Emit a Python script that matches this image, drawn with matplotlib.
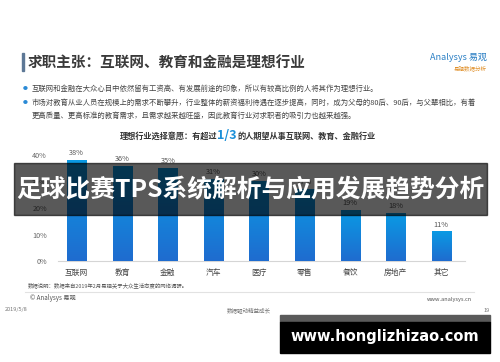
import matplotlib
matplotlib.use("Agg")
import matplotlib.pyplot as plt
from matplotlib.patches import Rectangle
from matplotlib.colors import LinearSegmentedColormap
from matplotlib.lines import Line2D
import numpy as np

plt.rcParams['font.family'] = ['Noto Sans CJK SC', 'DejaVu Sans']

categories = ["互联网", "教育", "金融", "汽车", "医疗", "零售", "餐饮", "房地产", "其它"]
shares = [38, 36, 35, 31, 30, 27, 19, 18, 11]
yticks = [0, 10, 20, 30, 40]
ytick_labels = ["0%", "10%", "20%", "30%", "40%"]

bullets = [
    ["互联网和金融在大众心目中依然留有工资高、有发展前途的印象，所以有较高比例的人将其作为理想行业。"],
    ["市场对教育从业人员在规模上的需求不断攀升，行业整体的薪资福利待遇在逐步提高，同时，成为父母的80后、90后，与父辈相比，有着",
     "更高质量、更高标准的教育需求，且需求越来越旺盛，因此教育行业对求职者的吸引力也越来越强。"],
]

W, H = 500, 362


def fx(x):
    return x / W


def fy(y):
    return 1 - y / H


fig = plt.figure(figsize=(5, 3.62), dpi=100)
fig.patch.set_facecolor("white")
renderer = fig.canvas.get_renderer()

# header
fig.patches.append(Rectangle((fx(22), fy(71)), 2.2 / W, 18 / H, transform=fig.transFigure,
                             color="#5d7896"))
fig.text(fx(28), fy(63), "求职主张：互联网、教育和金融是理想行业", fontsize=10.5,
         fontweight="bold", color="#3a3a3a", va="center")
fig.text(fx(487), fy(58), "Analysys 易观", fontsize=6.5, color="#2a7fc4", ha="right", va="center")
fig.text(fx(487), fy(68), "易观数据分析", fontsize=4, color="#e0902a", ha="right", va="center")

line_y = [89, 103, 116]
k = 0
for lines in bullets:
    fig.text(fx(25), fy(line_y[k]), "●", fontsize=3.5, color="#2a8ad6", ha="center", va="center")
    for t in lines:
        fig.text(fx(32), fy(line_y[k]), t, fontsize=5.3, color="#444444", va="center")
        k += 1

# chart subtitle with highlighted fraction
parts = [("理想行业选择意愿：有超过", "#333333", 5.9), ("1/3", "#1a8fd8", 9),
         ("的人期望从事互联网、教育、金融行业", "#333333", 5.9)]
x0 = 120
for s, c, fs in parts:
    t = fig.text(fx(x0), fy(136), s, fontsize=fs, color=c, va="center", fontweight="bold")
    bb = t.get_window_extent(renderer=renderer)
    x0 += bb.width

# bar chart
ax = fig.add_axes([fx(58), fy(261), (465 - 58) / W, (261 - 155.5) / H])
x = np.arange(len(categories))
bars = ax.bar(x, shares, width=0.42, color="#1a84d8", zorder=2)
cmap = LinearSegmentedColormap.from_list("bar", ["#1f6ccf", "#0a9ae4"])
grad = np.linspace(0, 1, 100).reshape(-1, 1)
for b in bars:
    ax.imshow(grad, cmap=cmap, origin="lower", aspect="auto", zorder=3,
              extent=[b.get_x(), b.get_x() + b.get_width(), 0, b.get_height()])
for xi, v in zip(x, shares):
    ax.annotate(f"{v}%", (xi, v), xytext=(0, 2.5), textcoords="offset points",
                ha="center", va="bottom", fontsize=5.3, color="#555555")
ax.set_xlim(-0.41, 8.52)
ax.set_ylim(0, 40)
ax.set_xticks(x)
ax.set_xticklabels(categories, fontsize=5.6, color="#444444")
ax.set_yticks(yticks)
ax.set_yticklabels(ytick_labels, fontsize=5.2, color="#666666")
ax.tick_params(length=0)
ax.tick_params(axis="y", pad=8)
ax.tick_params(axis="x", pad=5.5)
for s in ["top", "right", "left"]:
    ax.spines[s].set_visible(False)
ax.spines["bottom"].set_color("#d5d5d5")
ax.spines["bottom"].set_linewidth(0.8)
ax.set_facecolor("none")

# footer
fig.text(fx(28), fy(285), "数据说明：数据来自2019年2月易观关于大众生活态度的网络调研。", fontsize=3.9,
         color="#555555", va="center")
fig.lines.append(Line2D([fx(25), fx(474)], [fy(292), fy(292)], transform=fig.transFigure,
                        color="#e2e2e2", lw=0.8))
fig.text(fx(30), fy(298), "© Analysys 易观", fontsize=4.5, color="#555555", va="center")
fig.text(fx(472), fy(299), "www.analysys.cn", fontsize=4, color="#555555", va="center", ha="right")
fig.text(fx(5), fy(310), "2019/5/8", fontsize=4, color="#777777", va="center")
fig.text(fx(227), fy(310), "数据驱动精益成长", fontsize=4, color="#777777", va="center")
fig.text(fx(490), fy(310), "19", fontsize=4, color="#777777", va="center", ha="right")

# overlay banner
fig.patches.append(Rectangle((fx(14), fy(215)), 473 / W, 52 / H, transform=fig.transFigure,
                             color="black", alpha=0.65, zorder=10))
banner = fig.text(fx(250.5), fy(189), "足球比赛TPS系统解析与应用发展趋势分析", fontsize=20,
                  fontweight="bold", color="white", ha="center", va="center", zorder=11)
bw = banner.get_window_extent(renderer=renderer).width
banner.set_fontsize(20 * 468 / bw)

# bottom site box
fig.patches.append(Rectangle((fx(280), fy(322)), 210 / W, 7 / H, transform=fig.transFigure,
                             color="#5a5a5a", zorder=10))
fig.patches.append(Rectangle((fx(280), fy(353)), 210 / W, 31 / H, transform=fig.transFigure,
                             color="black", zorder=10))
fig.text(fx(385), fy(337), "www.honglizhizao.com", fontsize=10.5, fontweight="bold",
         color="white", ha="center", va="center", zorder=11, family="DejaVu Sans")

fig.savefig("out.png", dpi=100, facecolor="white")
